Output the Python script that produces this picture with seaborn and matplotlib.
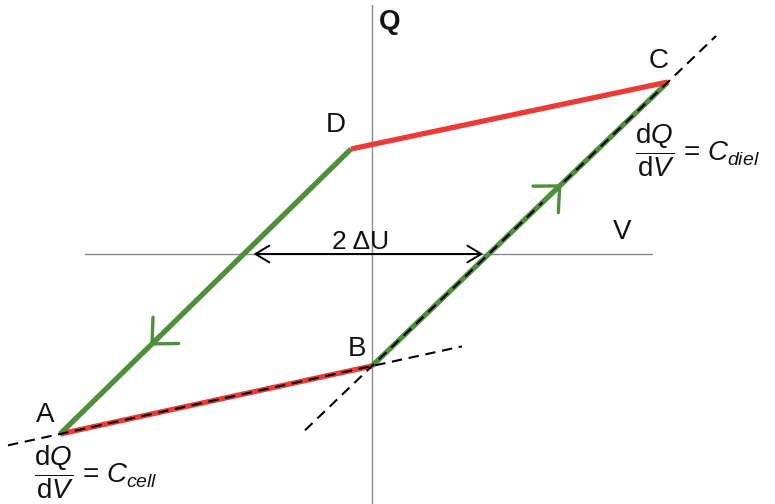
import numpy as np
import pandas as pd
import matplotlib
matplotlib.use("Agg")
import matplotlib.pyplot as plt
import seaborn as sns

# Corner points of the Q-V cycle (V horizontal, Q vertical, arbitrary units)
corner_names = ["A", "B", "C", "D"]
corner_v = [-3.12, 0.00, 2.96, -0.21]
corner_q = [-1.80, -1.12, 1.72, 1.05]

# Cycle legs: (start, end, phase)
legs = [("A", "B", "cell"), ("B", "C", "diel"), ("C", "D", "cell"), ("D", "A", "diel")]

# Where the direction chevrons sit along the green legs (fraction of the leg)
chevron_legs = [("D", "A", 0.69), ("B", "C", 0.64)]

# Extent of the dashed slope lines (V range)
slope_cell_v = [-3.64, 0.90]
slope_diel_v = [-0.67, 3.44]

# Axis extents
v_axis = [-2.87, 2.80]
q_axis = [-2.55, 2.49]

sns.set_theme(style="white")
plt.rcParams["font.family"] = ["Liberation Sans", "DejaVu Sans"]
plt.rcParams["mathtext.fontset"] = "custom"
plt.rcParams["mathtext.rm"] = "Liberation Sans"
plt.rcParams["mathtext.it"] = "Liberation Sans:italic"

pts = pd.DataFrame({"V": corner_v, "Q": corner_q}, index=corner_names)

fig = plt.figure(figsize=(7.75, 5.04), dpi=100)
ax = fig.add_axes([0, 0, 1, 1])
ax.set_xlim(-3.72, 4.03)
ax.set_ylim(-2.50, 2.54)
ax.axis("off")

GREEN = "#4f8f3c"
RED = "#ec3b36"
AXIS = "#8a8a8a"
INK = "#111111"

# coordinate axes
ax.plot(v_axis, [0, 0], color=AXIS, lw=1.0, zorder=1)
ax.plot([0, 0], q_axis, color=AXIS, lw=1.0, zorder=1)

# loop legs
for a, b, phase in legs:
    seg = pts.loc[[a, b]]
    sns.lineplot(x=seg["V"].values, y=seg["Q"].values, sort=False, ax=ax,
                 color=RED if phase == "cell" else GREEN, lw=3.8,
                 solid_capstyle="butt", zorder=3)

# dashed slope lines through A-B and B-C
def slope_line(p, r, vr):
    k = (pts.loc[r, "Q"] - pts.loc[p, "Q"]) / (pts.loc[r, "V"] - pts.loc[p, "V"])
    vv = np.array(vr)
    return vv, pts.loc[p, "Q"] + k * (vv - pts.loc[p, "V"])

for p, r, vr in [("A", "B", slope_cell_v), ("B", "C", slope_diel_v)]:
    vv, qq = slope_line(p, r, vr)
    ax.plot(vv, qq, color="black", lw=1.5, dashes=(5, 3.2), zorder=4)

# direction chevrons on the green legs
for a, b, f in chevron_legs:
    p0 = pts.loc[a].values
    p1 = pts.loc[b].values
    tip = p0 + f * (p1 - p0)
    tail = p0 + (f - 0.06) * (p1 - p0)
    ax.annotate("", xy=tip, xytext=tail,
                arrowprops=dict(arrowstyle="->,head_length=0.7,head_width=0.66",
                                mutation_scale=20, color=GREEN, lw=2.4,
                                shrinkA=0, shrinkB=0),
                zorder=5)

# 2ΔU arrow between zero crossings of the green legs
def zero_cross(a, b):
    p0 = pts.loc[a]
    p1 = pts.loc[b]
    t = (0 - p0["Q"]) / (p1["Q"] - p0["Q"])
    return p0["V"] + t * (p1["V"] - p0["V"])

v_left = zero_cross("D", "A")
v_right = zero_cross("B", "C")
ax.annotate("", xy=(v_right, 0), xytext=(v_left, 0),
            arrowprops=dict(arrowstyle="<->,head_length=0.5,head_width=0.3",
                            mutation_scale=20, color="black", lw=1.4,
                            shrinkA=7, shrinkB=4),
            zorder=5)
ax.text((v_left + v_right) / 2 - 0.06, 0.12, "2 \u0394U", fontsize=19,
        ha="center", va="center", color=INK)

# point labels
label_offset = {"A": (-11, 14), "B": (-11, 12), "C": (-7, 15), "D": (-11, 17)}
for name in corner_names:
    ax.annotate(name, xy=(pts.loc[name, "V"], pts.loc[name, "Q"]),
                xytext=label_offset[name], textcoords="offset points",
                fontsize=20, ha="center", va="center", color=INK)

ax.text(0.18, 2.32, "Q", fontsize=20, ha="center", va="center",
        fontweight="bold", color=INK)
ax.text(2.50, 0.22, "V", fontsize=20, ha="center", va="center", color=INK)

# slope formulas
ax.text(-3.38, -2.18, r"$\dfrac{\mathrm{d}Q}{\mathrm{d}V}$ = $C_{cell}$",
        fontsize=20, ha="left", va="center", color=INK)
ax.text(2.63, 1.04, r"$\dfrac{\mathrm{d}Q}{\mathrm{d}V}$ = $C_{diel}$",
        fontsize=20, ha="left", va="center", color=INK)

fig.savefig("out.png", dpi=100)
